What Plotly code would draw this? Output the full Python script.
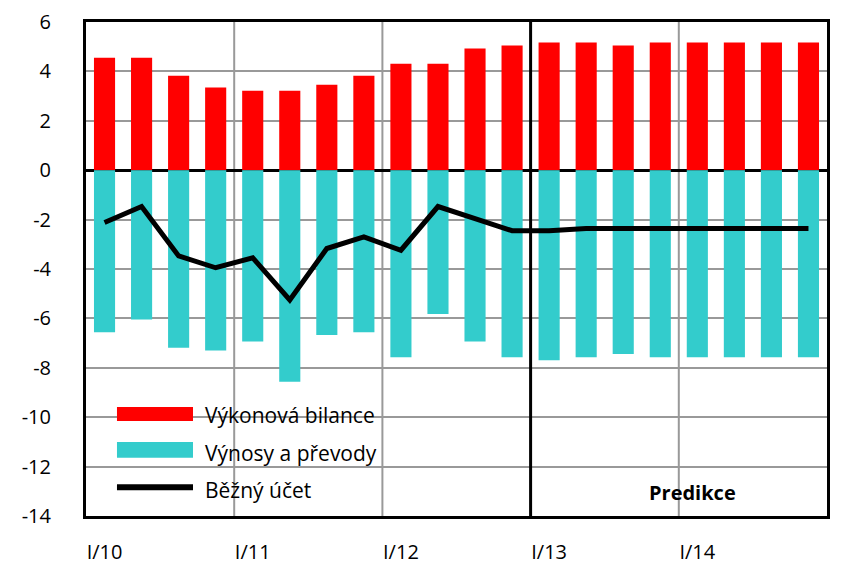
import plotly.graph_objects as go

quarters = ["I/10", "II/10", "III/10", "IV/10",
            "I/11", "II/11", "III/11", "IV/11",
            "I/12", "II/12", "III/12", "IV/12",
            "I/13", "II/13", "III/13", "IV/13",
            "I/14", "II/14", "III/14", "IV/14"]
vykonova = [4.55, 4.55, 3.82, 3.35, 3.22, 3.22, 3.46, 3.82, 4.31, 4.31,
            4.93, 5.05, 5.17, 5.17, 5.05, 5.17, 5.17, 5.17, 5.17, 5.17]
vynosy = [-6.56, -6.04, -7.19, -7.30, -6.94, -8.56, -6.67, -6.56, -7.57, -5.82,
          -6.94, -7.57, -7.69, -7.57, -7.44, -7.57, -7.57, -7.57, -7.57, -7.57]
bezny = [-2.12, -1.47, -3.47, -3.95, -3.55, -5.25, -3.17, -2.70, -3.24, -1.47,
         -1.96, -2.45, -2.45, -2.36, -2.36, -2.36, -2.36, -2.36, -2.36, -2.36]
tick_labels = ["I/10", "I/11", "I/12", "I/13", "I/14"]
y_ticks = [6, 4, 2, 0, -2, -4, -6, -8, -10, -12, -14]
y_tick_text = ["6", "4", "2", "0", "-2", "-4", "-6", "-8", "-10", "-12", "-14"]

series_names = ["Výkonová bilance", "Výnosy a převody", "Běžný účet"]
RED = "#FF0000"
CYAN = "#33CCCC"
FONT = "Open Sans"

fig = go.Figure()
fig.add_trace(go.Bar(x=quarters, y=vykonova, name=series_names[0],
                     marker=dict(color=RED, line=dict(width=0)), width=0.57))
fig.add_trace(go.Bar(x=quarters, y=vynosy, name=series_names[1],
                     marker=dict(color=CYAN, line=dict(width=0)), width=0.57))
fig.add_trace(go.Scatter(x=quarters, y=bezny, name=series_names[2], mode="lines",
                         line=dict(color="black", width=5)))

shapes = []
# vertical year separators
for xv in [3.5, 7.5, 15.5]:
    shapes.append(dict(type="line", xref="x", yref="paper", x0=xv, x1=xv, y0=0, y1=1,
                       line=dict(color="#999999", width=2), layer="below"))
shapes.append(dict(type="line", xref="x", yref="paper", x0=11.5, x1=11.5, y0=0, y1=1,
                   line=dict(color="black", width=3), layer="above"))

# custom legend swatches
shapes.append(dict(type="rect", xref="paper", yref="paper", x0=0.0418, x1=0.1444,
                   y0=0.1923, y1=0.2206, fillcolor=RED, line=dict(width=0)))
shapes.append(dict(type="rect", xref="paper", yref="paper", x0=0.0418, x1=0.1444,
                   y0=0.118, y1=0.150, fillcolor=CYAN, line=dict(width=0)))
shapes.append(dict(type="line", xref="paper", yref="paper", x0=0.0418, x1=0.1444,
                   y0=0.058, y1=0.058, line=dict(color="black", width=6)))

annotations = []
for name, yv in zip(series_names, [0.2045, 0.1275, 0.0526]):
    annotations.append(dict(text=name, xref="paper", yref="paper", x=0.158, y=yv,
                            xanchor="left", yanchor="middle", showarrow=False,
                            font=dict(family=FONT, size=21, color="black")))
annotations.append(dict(text="<b>Predikce</b>", xref="paper", yref="paper", x=0.818, y=0.0466,
                        xanchor="center", yanchor="middle", showarrow=False,
                        font=dict(family=FONT, size=20, color="black")))

# page body has an 8px default margin, so the figure is sized to fit the 850x575 window
fig.update_layout(
    width=842, height=567,
    margin=dict(l=78, r=23, t=14, b=59),
    paper_bgcolor="white", plot_bgcolor="white",
    barmode="relative",
    showlegend=False,
    font=dict(family=FONT, size=20, color="black"),
    shapes=shapes,
    annotations=annotations,
    xaxis=dict(type="category", range=[-0.5, 19.5], tickmode="array",
               tickvals=tick_labels, ticktext=tick_labels, showgrid=False,
               showline=True, linecolor="black", linewidth=3, mirror=True,
               automargin=False,
               ticks="", ticklabelstandoff=16, tickfont=dict(family=FONT, size=20)),
    yaxis=dict(range=[-14, 6], tickmode="array", tickvals=y_ticks, ticktext=y_tick_text,
               showgrid=True, gridcolor="#999999", gridwidth=2,
               zeroline=True, zerolinecolor="black", zerolinewidth=3,
               showline=True, linecolor="black", linewidth=3, mirror=True,
               automargin=False,
               ticks="", ticklabelstandoff=28, tickfont=dict(family=FONT, size=20)),
)

fig.write_html("out.html")
